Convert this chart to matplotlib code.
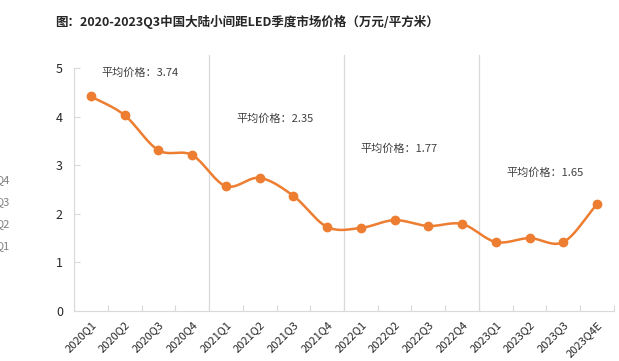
import numpy as np
import matplotlib.pyplot as plt

plt.rcParams['font.family'] = ['Noto Sans CJK SC', 'DejaVu Sans']

quarters = ['2020Q1', '2020Q2', '2020Q3', '2020Q4',
            '2021Q1', '2021Q2', '2021Q3', '2021Q4',
            '2022Q1', '2022Q2', '2022Q3', '2022Q4',
            '2023Q1', '2023Q2', '2023Q3', '2023Q4E']
prices = [4.42, 4.03, 3.31, 3.21,
          2.57, 2.74, 2.37, 1.73,
          1.71, 1.87, 1.75, 1.79,
          1.42, 1.50, 1.42, 2.20]
avg_labels = ['平均价格：3.74', '平均价格：2.35', '平均价格：1.77', '平均价格：1.65']
avg_pos = [(0.3, 4.9), (4.3, 3.95), (8.0, 3.35), (12.3, 2.85)]

orange = '#ED7D31'
grid_c = '#d9d9d9'


# catmull-rom curve through the points, like the smoothed line in excel
def smooth(x, y, n=20):
    x = np.asarray(x, float)
    y = np.asarray(y, float)
    px = np.concatenate([[2 * x[0] - x[1]], x, [2 * x[-1] - x[-2]]])
    py = np.concatenate([[2 * y[0] - y[1]], y, [2 * y[-1] - y[-2]]])
    xs, ys = [], []
    t = np.linspace(0, 1, n, endpoint=False)
    for i in range(1, len(px) - 2):
        for p, out in ((px, xs), (py, ys)):
            p0, p1, p2, p3 = p[i - 1], p[i], p[i + 1], p[i + 2]
            out.extend(0.5 * (2 * p1 + (-p0 + p2) * t
                              + (2 * p0 - 5 * p1 + 4 * p2 - p3) * t ** 2
                              + (-p0 + 3 * p1 - 3 * p2 + p3) * t ** 3))
    xs.append(x[-1])
    ys.append(y[-1])
    return np.array(xs), np.array(ys)


px = 1 / 100
fig = plt.figure(figsize=(619 * px, 361 * px), dpi=100)
ax = fig.add_axes([74 / 619, 1 - 311 / 361, 540 / 619, 256 / 361])

xi = np.arange(len(quarters))
sx, sy = smooth(xi, prices)
ax.plot(sx, sy, color=orange, lw=1.8, zorder=3)
ax.plot(xi, prices, 'o', color=orange, ms=6, zorder=4)

for b in [3.5, 7.5, 11.5]:
    ax.axvline(b, color=grid_c, lw=0.9, zorder=1)

for txt, (x, y) in zip(avg_labels, avg_pos):
    ax.text(x, y, txt, fontsize=8, color='#404040', va='center')

ax.set_xlim(-0.5, len(quarters) - 0.5)
ax.set_ylim(0, 5.27)
ax.set_yticks(range(6))
ax.set_xticks(np.arange(-0.5, len(quarters), 1), minor=False)
ax.set_xticklabels([])
ax.set_xticks(xi, minor=True)
ax.set_xticklabels(quarters, minor=True, rotation=45, ha='right',
                   rotation_mode='anchor', fontsize=8, color='#262626')
ax.tick_params(axis='x', which='major', direction='in', length=4, color=grid_c)
ax.tick_params(axis='x', which='minor', length=0, pad=6)
ax.tick_params(axis='y', direction='in', length=4, color=grid_c,
               labelsize=9, labelcolor='#262626', pad=8)

for s in ['top', 'right']:
    ax.spines[s].set_visible(False)
for s in ['left', 'bottom']:
    ax.spines[s].set_color(grid_c)
ax.spines['left'].set_bounds(0, 5)

fig.text(55 / 619, 1 - 22 / 361, '图：2020-2023Q3中国大陆小间距LED季度市场价格（万元/平方米）',
         fontsize=9, fontweight='bold', color='#262626', va='center')

# cut-off legend at the left edge
for i, q in enumerate(['Q4', 'Q3', 'Q2', 'Q1']):
    fig.text(10 / 619, 1 - (180 + i * 22) / 361, q, fontsize=8,
             color='#808080', ha='right', va='center')

fig.savefig('out.png', dpi=100)
